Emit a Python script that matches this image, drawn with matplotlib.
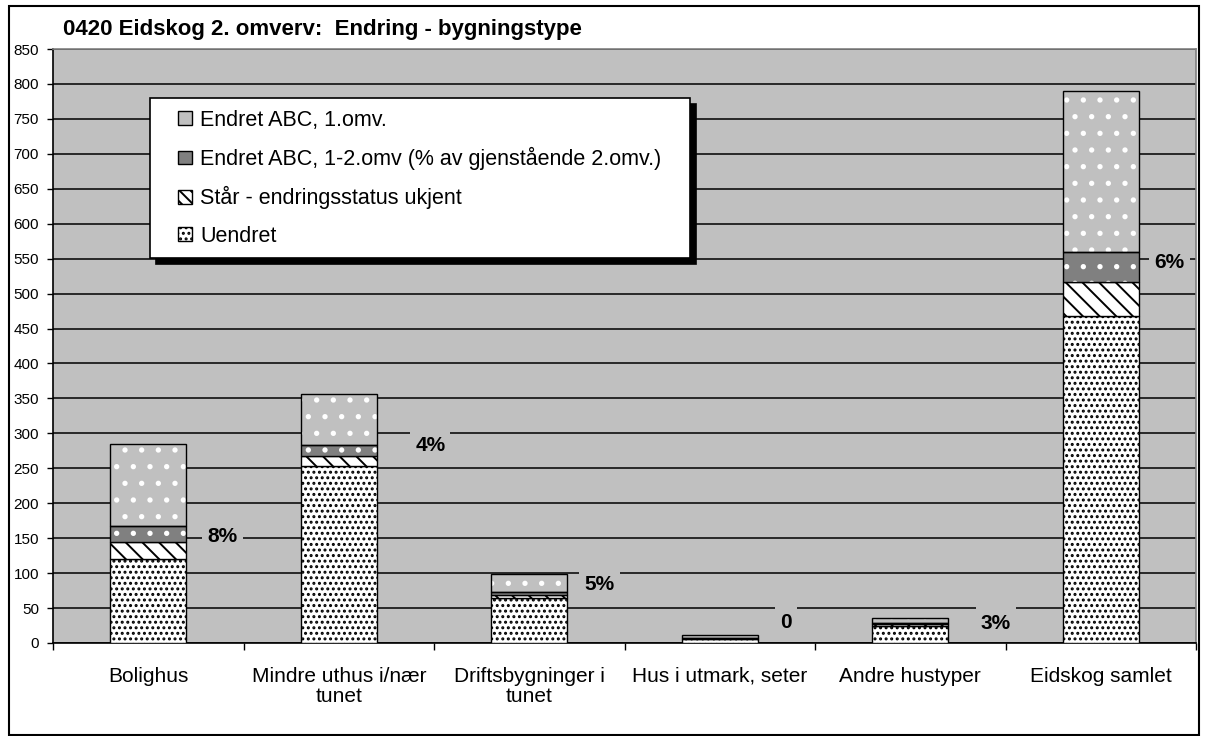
import numpy as np
import matplotlib
matplotlib.use("Agg")
import matplotlib.pyplot as plt
from matplotlib.patches import Patch, Rectangle
from matplotlib.path import Path
from matplotlib.legend_handler import HandlerPatch

plt.rcParams['font.family'] = ['Liberation Sans', 'DejaVu Sans']
plt.rcParams['hatch.linewidth'] = 1.4

title = "0420 Eidskog 2. omverv:  Endring - bygningstype"
categories = ["Bolighus", "Mindre uthus i/nær\ntunet", "Driftsbygninger i\ntunet",
              "Hus i utmark, seter", "Andre hustyper", "Eidskog samlet"]

# stacked values, bottom to top
uendret = [120, 253, 64, 6, 25, 468]
staar = [25, 15, 5, 1, 2, 49]
endret_12 = [22, 16, 4, 0, 1, 42]
endret_1 = [118, 72, 26, 4, 8, 231]
pct_labels = ["8%", "4%", "5%", "0", "3%", "6%"]

# where excel put the percent labels (x offset from bar, y in data units)
pct_dx = [0.39, 0.48, 0.37, 0.35, 0.45, 0.36]
pct_y = [152, 282, 84, 29, 28, 545]

grey = '#c0c0c0'
dark = '#808080'
W, H = 1205, 736


def tall_box(x0, y0, width, height, mutation_size):
    # label background, taller than wide like excel does it
    px = 0.25 * mutation_size
    py = 0.45 * mutation_size
    x0, y0 = x0 - px, y0 - py
    x1, y1 = x0 + width + 2 * px, y0 + height + 2 * py
    return Path([(x0, y0), (x1, y0), (x1, y1), (x0, y1), (x0, y0)], closed=True)


def small_square(legend, orig_handle, xdescent, ydescent, width, height, fontsize):
    # square marker pushed to the right end of the handle box
    s = height
    return Rectangle((-xdescent + width - s, -ydescent), s, s)


fig = plt.figure(figsize=(W / 100, H / 100), dpi=100)
ax = fig.add_axes([53 / W, 93 / H, 1143 / W, 594 / H])
ax.set_facecolor(grey)

x = np.arange(len(categories))
bw = 0.4
b1 = np.array(uendret)
b2 = b1 + np.array(staar)
b3 = b2 + np.array(endret_12)

ax.bar(x, uendret, bw, color='white', edgecolor='black', hatch='...', lw=1, zorder=3)
ax.bar(x, staar, bw, bottom=b1, color='white', edgecolor='black', hatch='\\\\', lw=1, zorder=3)
ax.bar(x, endret_12, bw, bottom=b2, color=dark, edgecolor='white', hatch='.', lw=0, zorder=3)
ax.bar(x, endret_12, bw, bottom=b2, fill=False, edgecolor='black', lw=1, zorder=4)
ax.bar(x, endret_1, bw, bottom=b3, color=grey, edgecolor='white', hatch='.', lw=0, zorder=3)
ax.bar(x, endret_1, bw, bottom=b3, fill=False, edgecolor='black', lw=1, zorder=4)

for i, lab in enumerate(pct_labels):
    ax.text(x[i] + pct_dx[i], pct_y[i], lab, ha='center', va='center', fontsize=15,
            fontweight='bold', zorder=6, clip_on=False,
            bbox=dict(boxstyle=tall_box, facecolor=grey, edgecolor='none'))

ax.set_xlim(-0.5, len(categories) - 0.5)
ax.set_ylim(0, 850)
ax.set_yticks(np.arange(0, 851, 50))
ax.yaxis.grid(True, color='black', lw=1.1, zorder=0)
ax.set_axisbelow(True)

ax.set_xticks(x)
ax.set_xticklabels(categories, fontsize=15)
for t in ax.get_xticklabels():
    t.set_linespacing(1.1)
ax.set_xticks(np.arange(-0.5, len(categories)), minor=True)
ax.tick_params(axis='x', which='major', length=0, pad=17)
ax.tick_params(axis='x', which='minor', length=5, width=1, direction='out')
ax.tick_params(axis='y', labelsize=11, length=4, width=1, pad=6)

for s in ['left', 'bottom']:
    ax.spines[s].set_color('black')
    ax.spines[s].set_linewidth(1.2)
for s in ['top', 'right']:
    ax.spines[s].set_color(dark)
    ax.spines[s].set_linewidth(1.2)

handles = [
    Patch(facecolor=grey, edgecolor='black', label='Endret ABC, 1.omv.'),
    Patch(facecolor=dark, edgecolor='black', label='Endret ABC, 1-2.omv (% av gjenstående 2.omv.)'),
    Patch(facecolor='white', edgecolor='black', hatch='\\\\\\', label='Står - endringsstatus ukjent'),
    Patch(facecolor='white', edgecolor='black', hatch='...', label='Uendret'),
]
leg = ax.legend(handles=handles, loc='upper left',
                bbox_to_anchor=(150 / W, 1 - 260 / H, 540 / W, 162 / H),
                bbox_transform=fig.transFigure, mode='expand', borderaxespad=0,
                fontsize=15.5, handlelength=1.4, handleheight=0.6, handletextpad=0.37,
                labelspacing=0.75, borderpad=0.55, fancybox=False, framealpha=1,
                edgecolor='black', handler_map={Patch: HandlerPatch(patch_func=small_square)},
                shadow={'ox': 4, 'oy': -4, 'color': 'black', 'alpha': 1})
leg.get_frame().set_linewidth(1.2)
leg.set_zorder(7)

fig.text(63 / W, 1 - 30 / H, title, fontsize=16, fontweight='bold', va='center')
fig.patches.append(Rectangle((9 / W, 1 / H), 1190 / W, 729 / H, transform=fig.transFigure,
                             fill=False, edgecolor='black', lw=1.5))

fig.savefig('out.png', dpi=100)
